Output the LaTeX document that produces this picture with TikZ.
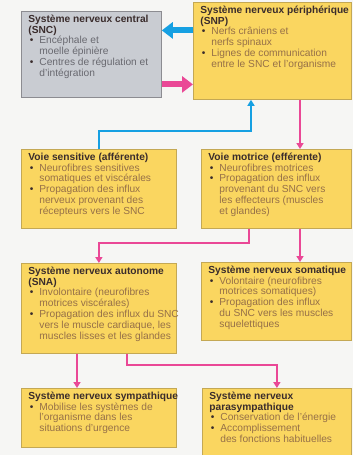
\documentclass[tikz,border=0pt]{standalone}
\usepackage{fontspec}
\setmainfont{Liberation Sans}
\usetikzlibrary{arrows.meta,positioning}

\definecolor{boxyellow}{RGB}{250,214,96}
\definecolor{yellowline}{RGB}{196,168,84}
\definecolor{boxgray}{RGB}{201,204,210}
\definecolor{grayline}{RGB}{140,140,145}
\definecolor{headtext}{RGB}{58,44,44}
\definecolor{itemtext}{RGB}{150,112,72}
\definecolor{grayitem}{RGB}{105,105,112}
\definecolor{linkblue}{RGB}{22,160,226}
\definecolor{linkpink}{RGB}{234,72,150}
\definecolor{paper}{RGB}{246,246,244}

\newcommand{\card}[3]{\makebox[#1pt][l]{\parbox[t][#2pt][t]{300pt}{\lineskiplimit=-\maxdimen #3}}}
\newcommand{\head}[1]{\noindent{\bfseries\color{headtext}#1\par}}
\newcommand{\bul}[1]{\hangindent=11pt\hangafter=1\noindent\makebox[11pt][l]{\hspace{1.5pt}{\color{headtext}\textbullet}}#1\par}

\begin{document}
\begin{tikzpicture}[
    x=1pt, y=-1pt,
    ybox/.style={rectangle, draw=yellowline, line width=0.8pt, fill=boxyellow,
        anchor=north west, inner xsep=7pt, inner ysep=3.5pt, text=itemtext,
        font=\fontsize{10.2}{10.8}\selectfont},
    gbox/.style={ybox, draw=grayline, fill=boxgray, text=grayitem},
    bigarrow/.style={line width=6pt, -{Triangle[length=11pt,width=16pt]}},
    link/.style={line width=1.8pt, -{Triangle[length=6pt,width=7pt]}}
]
\useasboundingbox[fill=paper] (0,0) rectangle (353,455);

\node[gbox] (snc) at (21,11) {\card{126}{79}{%
    \head{Système nerveux central\\(SNC)}
    \bul{Encéphale et\\moelle épinière}
    \bul{Centres de régulation et\\d’intégration}}};
\node[ybox] (snp) at (193,2) {\card{144}{90}{%
    \head{Système nerveux périphérique\\(SNP)}
    \bul{Nerfs crâniens et\\nerfs spinaux}
    \bul{Lignes de communication\\entre le SNC et l’organisme}}};
\node[ybox] (sens) at (21,149) {\card{141}{72}{%
    \head{Voie sensitive (afférente)}
    \bul{Neurofibres sensitives\\somatiques et viscérales}
    \bul{Propagation des influx\\nerveux provenant des\\récepteurs vers le SNC}}};
\node[ybox] (mot) at (201,149) {\card{136}{72}{%
    \head{Voie motrice (efférente)}
    \bul{Neurofibres motrices}
    \bul{Propagation des influx\\provenant du SNC vers\\les effecteurs (muscles\\et glandes)}}};
\node[ybox] (sna) at (21,263) {\card{141}{83}{%
    \head{Système nerveux autonome\\(SNA)}
    \bul{Involontaire (neurofibres\\motrices viscérales)}
    \bul{Propagation des influx du SNC\\vers le muscle cardiaque, les\\muscles lisses et les glandes}}};
\node[ybox] (som) at (201,262) {\card{136}{71}{%
    \head{Système nerveux somatique}
    \bul{Volontaire (neurofibres\\motrices somatiques)}
    \bul{Propagation des influx\\du SNC vers les muscles\\squelettiques}}};
\node[ybox] (sym) at (21,388) {\card{141}{52}{%
    \head{Système nerveux sympathique}
    \bul{Mobilise les systèmes de\\l’organisme dans les\\situations d’urgence}}};
\node[ybox] (para) at (202,388) {\card{135}{74}{%
    \head{Système nerveux\\parasympathique}
    \bul{Conservation de l’énergie}
    \bul{Accomplissement\\des fonctions habituelles}}};

\coordinate (cb) at ([yshift=24pt]snc.east);
\coordinate (cp) at ([yshift=-30pt]snc.east);
\draw[bigarrow, linkblue] (cb -| snp.west) -- (cb);
\draw[bigarrow, linkpink] (cp) -- (cp -| snp.west);

\coordinate (bl) at (251,131);
\coordinate (pv) at (300,0);
\coordinate (ma) at (249,243);
\coordinate (sa) at (77,0);
\coordinate (sb) at (127,365);
\draw[link, linkblue] (sens.north) |- (bl) -- (bl |- snp.south);
\draw[link, linkpink] (pv |- snp.south) -- (pv |- mot.north);
\draw[link, linkpink] (pv |- mot.south) -- (pv |- som.north);
\draw[link, linkpink] (ma |- mot.south) -- (ma) -| (sna.north);
\draw[link, linkpink] (sa |- sna.south) -- (sa |- sym.north);
\draw[link, linkpink] (sb |- sna.south) -- (sb) -| (para.north);
\end{tikzpicture}
\end{document}
